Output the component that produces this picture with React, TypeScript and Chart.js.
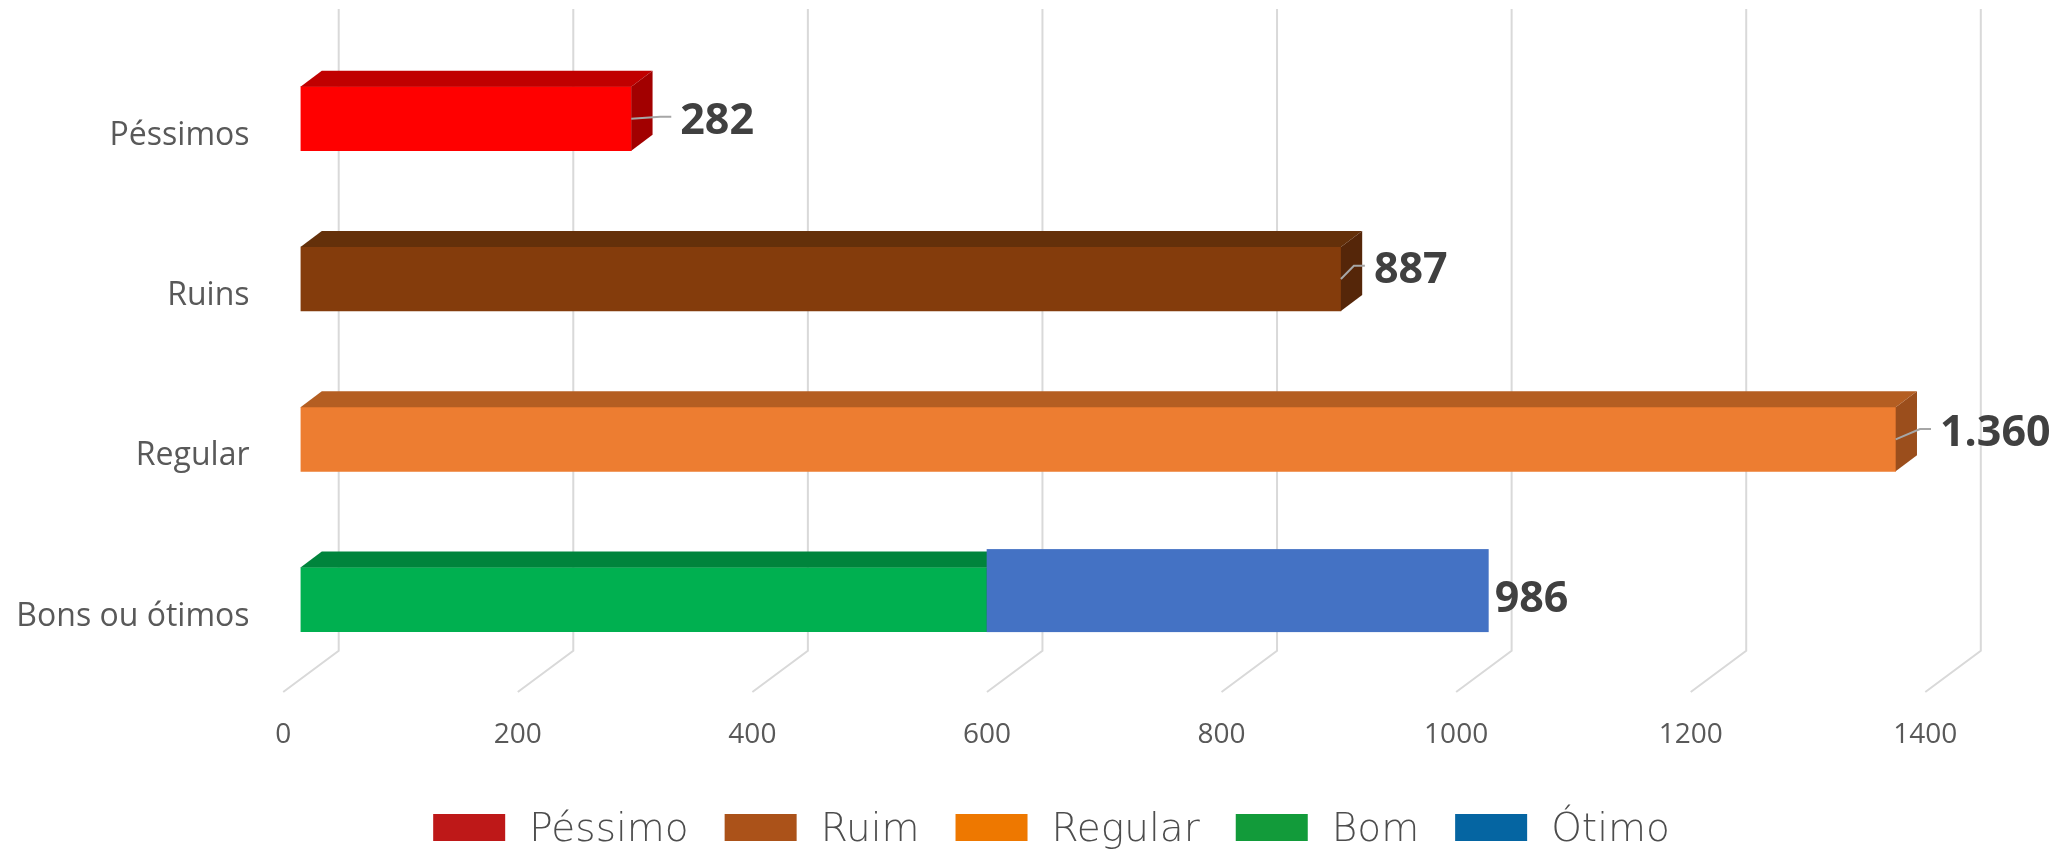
import React, { useEffect, useRef } from "react";
import { Chart, registerables } from "chart.js";

Chart.register(...registerables);

// ---------- data ----------
const categories = ["Péssimos", "Ruins", "Regular", "Bons ou ótimos"];
const seriesNames = ["Péssimo", "Ruim", "Regular", "Bom", "Ótimo"];
const pessimoValues = [282, null, null, null];
const ruimValues = [null, 887, null, null];
const regularValues = [null, null, 1360, null];
const bomValues = [null, null, null, 585];
const otimoValues = [null, null, null, 428];
const totalLabels = [282, 887, 1360, 986];
const xTicks = [0, 200, 400, 600, 800, 1000, 1200, 1400];

// ---------- styles ----------
const frontColors = ["#FF0000", "#843C0C", "#ED7D31", "#00B050", "#4472C4"];
const topColors = ["#C00000", "#64300A", "#B45E22", "#00843C", "#4472C4"];
const sideColors = ["#A20000", "#552609", "#9B4E1C", "#007A36", "#4472C4"];
const legendColors = ["#BE1818", "#AB5219", "#EE7800", "#129B3A", "#0565A2"];

const DEPTH_DX = 21.3;
const DEPTH_DY = 16;
// data-label nudges [dx from bar end, baseline offset from bar centre]
const labelNudge: [number, number][] = [
  [27.7, 15.3],
  [11.7, 4],
  [23, 7],
  [6, 12],
];

const fmt = (v: number) => v.toLocaleString("pt-BR");

const threeDPlugin = {
  id: "threeD",
  beforeDatasetsDraw(chart: any) {
    const ctx = chart.ctx;
    const xs = chart.scales.x;
    ctx.save();
    // walls / floor grid
    ctx.strokeStyle = "#D9D9D9";
    ctx.lineWidth = 2;
    ctx.lineJoin = "miter";
    for (const v of xTicks) {
      const px = xs.getPixelForValue(v);
      ctx.beginPath();
      ctx.moveTo(px + 38.2, 9);
      ctx.lineTo(px + 38.2, 650.7);
      ctx.lineTo(px - 17.3, 692);
      ctx.stroke();
    }
    // x tick labels
    ctx.fillStyle = "#595959";
    ctx.font = "28px 'Open Sans'";
    ctx.textAlign = "center";
    ctx.textBaseline = "alphabetic";
    for (const v of xTicks) {
      const px = xs.getPixelForValue(v);
      ctx.fillText(String(v), px - 17.3, 743);
    }
    // category labels
    const ys = chart.scales.y;
    ctx.font = "32px 'Open Sans'";
    ctx.textAlign = "right";
    categories.forEach((c, i) => {
      const py = ys.getPixelForValue(i);
      ctx.fillText(c, chart.chartArea.left - 51, py + 26);
    });
    ctx.restore();
  },
  afterDatasetsDraw(chart: any) {
    const ctx = chart.ctx;
    ctx.save();
    const ends: number[] = [0, 0, 0, 0];
    const centers: number[] = [0, 0, 0, 0];
    for (let di = 0; di < 4; di++) {
      const meta = chart.getDatasetMeta(di);
      meta.data.forEach((el: any, i: number) => {
        const raw = chart.data.datasets[di].data[i];
        if (raw == null) return;
        const p = el.getProps(["x", "y", "base", "height"], true);
        const left = Math.min(p.base, p.x);
        const right = Math.max(p.base, p.x);
        const top = p.y - p.height / 2;
        const bottom = p.y + p.height / 2;
        // top face
        ctx.fillStyle = topColors[di];
        ctx.beginPath();
        ctx.moveTo(left, top);
        ctx.lineTo(left + DEPTH_DX, top - DEPTH_DY);
        ctx.lineTo(right + DEPTH_DX, top - DEPTH_DY);
        ctx.lineTo(right, top);
        ctx.closePath();
        ctx.fill();
        // side face
        ctx.fillStyle = sideColors[di];
        ctx.beginPath();
        ctx.moveTo(right, top);
        ctx.lineTo(right + DEPTH_DX, top - DEPTH_DY);
        ctx.lineTo(right + DEPTH_DX, bottom - DEPTH_DY);
        ctx.lineTo(right, bottom);
        ctx.closePath();
        ctx.fill();
        ends[i] = right;
        centers[i] = p.y;
      });
    }
    // flat Ótimo overlay
    {
      const meta = chart.getDatasetMeta(4);
      meta.data.forEach((el: any, i: number) => {
        const raw = chart.data.datasets[4].data[i];
        if (raw == null) return;
        const p = el.getProps(["x", "y", "base", "height"], true);
        const left = Math.min(p.base, p.x);
        const right = Math.max(p.base, p.x);
        const top = p.y - p.height / 2 - 18.5;
        const bottom = p.y + p.height / 2 + 0.5;
        ctx.fillStyle = frontColors[4];
        ctx.fillRect(left, top, right - left, bottom - top);
        ends[i] = right;
        centers[i] = p.y;
      });
    }
    // data labels + leader lines
    ctx.font = "bold 43px 'Open Sans'";
    ctx.textAlign = "left";
    ctx.textBaseline = "alphabetic";
    totalLabels.forEach((v, i) => {
      const hasDepth = i < 3;
      const outer = ends[i] + (hasDepth ? DEPTH_DX : 0);
      const lx = outer + labelNudge[i][0];
      const base = centers[i] + labelNudge[i][1];
      const mid = base - 15.3;
      if (hasDepth) {
        ctx.strokeStyle = "#A6A6A6";
        ctx.lineWidth = 2;
        const ex = lx - 9;
        const ey = mid - 2;
        ctx.beginPath();
        ctx.moveTo(ends[i], centers[i]);
        ctx.lineTo(Math.max(ends[i] + 12, ex - 11), ey);
        ctx.lineTo(ex, ey);
        ctx.stroke();
      }
      ctx.fillStyle = "#404040";
      ctx.fillText(fmt(v), lx, base);
    });
    ctx.restore();
  },
  afterDraw(chart: any) {
    const ctx = chart.ctx;
    ctx.save();
    ctx.font = "200 39px 'DejaVu Sans'";
    ctx.textBaseline = "alphabetic";
    ctx.textAlign = "left";
    const boxW = 72;
    const boxH = 27;
    const gapText = 24;
    const gapItem = 36;
    const widths = seriesNames.map((n) => ctx.measureText(n).width);
    const total =
      widths.reduce((a, b) => a + b, 0) +
      seriesNames.length * (boxW + gapText) +
      (seriesNames.length - 1) * gapItem;
    let x = 1051.5 - total / 2;
    seriesNames.forEach((n, i) => {
      ctx.fillStyle = legendColors[i];
      ctx.fillRect(x, 814, boxW, boxH);
      x += boxW + gapText;
      ctx.fillStyle = "#4D4D4D";
      ctx.fillText(n, x, 841);
      x += widths[i] + gapItem;
    });
    ctx.restore();
  },
};

export default function App() {
  const ref = useRef<HTMLCanvasElement | null>(null);
  useEffect(() => {
    if (!ref.current) return;
    const seriesData = [pessimoValues, ruimValues, regularValues, bomValues, otimoValues];
    const chart = new Chart(ref.current, {
      type: "bar",
      data: {
        labels: categories,
        datasets: seriesNames.map((name, i) => ({
          label: name,
          data: seriesData[i],
          backgroundColor: i === 4 ? "rgba(0,0,0,0)" : frontColors[i],
          borderWidth: 0,
          barThickness: 64,
          stack: "s",
        })),
      },
      options: {
        indexAxis: "y",
        animation: false,
        responsive: false,
        events: [],
        layout: {
          padding: { left: 300.5, right: 121.4, top: 38.55, bottom: 169.25 },
        },
        scales: {
          x: { type: "linear", min: 0, max: 1400, stacked: true, display: false },
          y: { type: "category", stacked: true, display: false },
        },
        plugins: {
          legend: { display: false },
          tooltip: { enabled: false },
        },
      },
      plugins: [threeDPlugin],
    } as any);
    return () => chart.destroy();
  }, []);
  return (
    <div style={{ position: "absolute", left: 0, top: 0, width: 2064, height: 849, background: "#fff" }}>
      <canvas ref={ref} width={2064} height={849} style={{ display: "block" }} />
    </div>
  );
}
